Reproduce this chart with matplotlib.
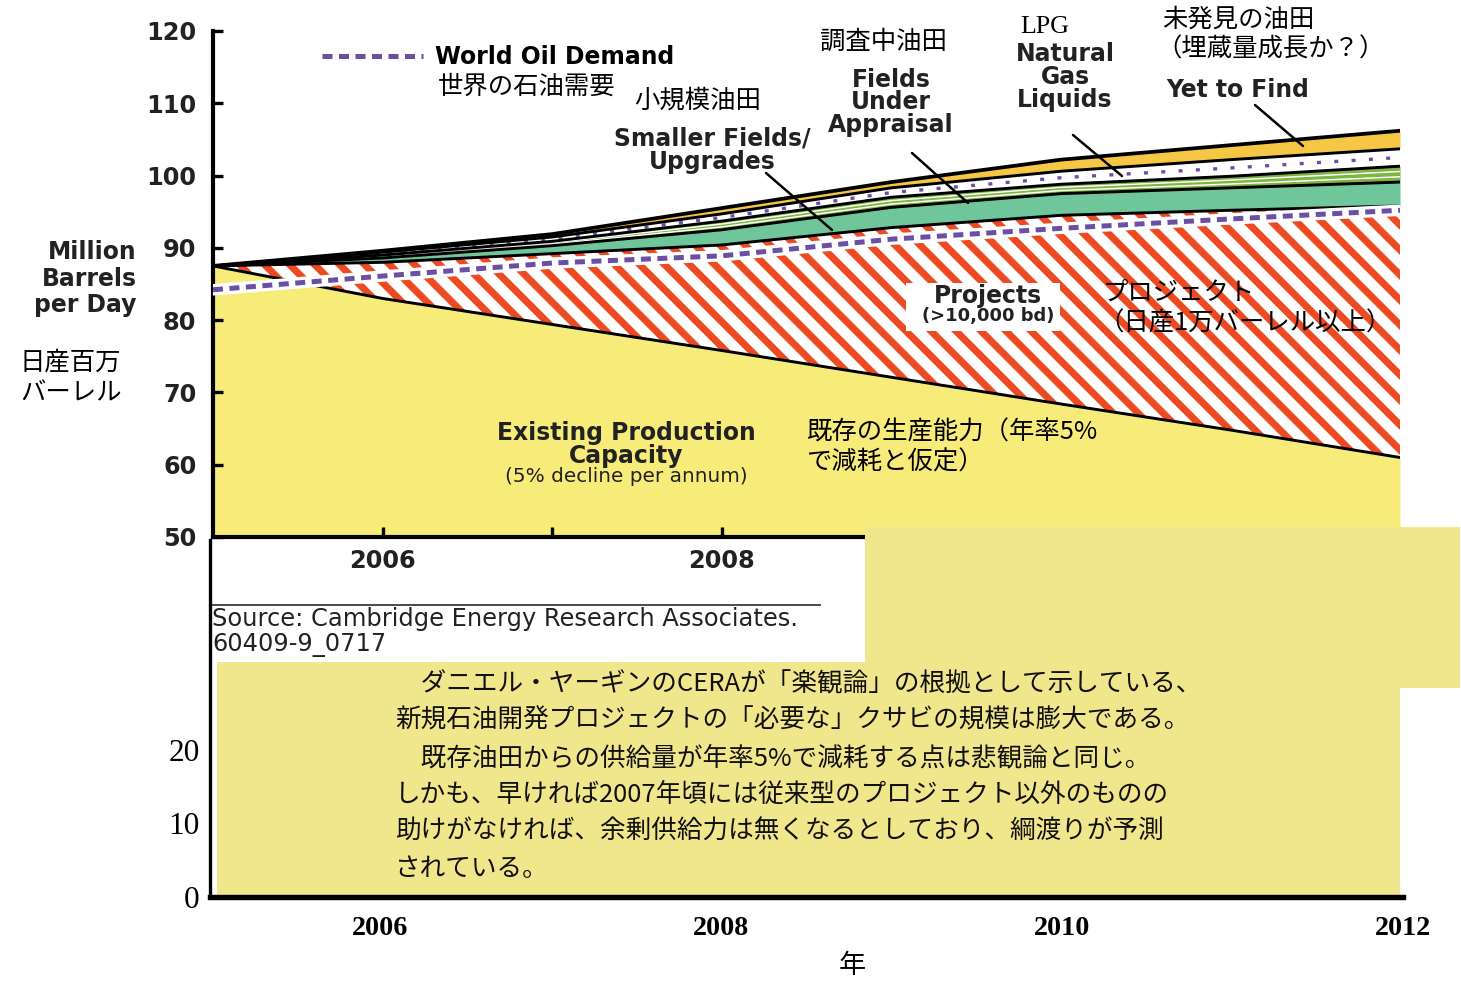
import numpy as np
import matplotlib
matplotlib.use("Agg")
import matplotlib.pyplot as plt
from matplotlib.patches import Rectangle
from matplotlib.lines import Line2D

W, H, DPI = 1461, 985, 150
plt.rcParams['hatch.linewidth'] = 3.4

# ---------------- data (million barrels per day) ----------------
years = [2005, 2006, 2007, 2008, 2009, 2010, 2011, 2012]
existing = [87.5, 83.0, 79.4, 75.8, 72.1, 68.4, 64.8, 61.0]
projects = [0.0, 5.0, 9.8, 14.6, 20.7, 26.1, 30.4, 34.8]
smaller_fields = [0.0, 0.6, 1.1, 2.1, 2.8, 3.0, 3.1, 3.3]
under_appraisal = [0.0, 0.4, 0.6, 1.2, 1.4, 1.3, 1.6, 2.2]
ngl = [0.0, 0.4, 0.6, 1.0, 1.3, 1.8, 2.3, 2.4]
yet_to_find = [0.0, 0.2, 0.4, 0.8, 0.8, 1.6, 2.0, 2.5]
demand = [84.2, 86.1, 87.9, 88.9, 91.2, 92.7, 94.0, 95.2]

main_yticks = [50, 60, 70, 80, 90, 100, 110, 120]
main_xticks = [2006, 2007, 2008, 2009, 2010, 2011, 2012]
main_xlabels = ['2006', '', '2008', '', '2010', '', '2012']
lower_yticks = [0, 10, 20]
lower_xticks = [2006, 2008, 2010, 2012]

note_lines = [
    "\u3000ダニエル・ヤーギンのCERAが「楽観論」の根拠として示している、",
    "新規石油開発プロジェクトの「必要な」クサビの規模は膨大である。",
    "\u3000既存油田からの供給量が年率5%で減耗する点は悲観論と同じ。",
    "しかも、早ければ2007年頃には従来型のプロジェクト以外のものの",
    "助けがなければ、余剰供給力は無くなるとしており、綱渡りが予測",
    "されている。",
]

JP = ['Noto Sans CJK JP', 'DejaVu Sans']
SERIF = ['Liberation Serif', 'DejaVu Serif']
KHAKI = '#F0E68C'


def F(px, py):
    return px / W, 1 - py / H


fig = plt.figure(figsize=(W / DPI, H / DPI), dpi=DPI)

# ---------------- main chart ----------------
TOP = 31
ax = fig.add_axes([213 / W, 1 - 537 / H, (1400 - 213) / W, (537 - TOP) / H])
ax.set_xlim(2005, 2012)
ax.set_ylim(50, 120)

x = np.array(years, dtype=float)
t0 = np.array(existing)
t1 = t0 + np.array(projects)
t2 = t1 + np.array(smaller_fields)
t3 = t2 + np.array(under_appraisal)
t4 = t3 + np.array(ngl)
t5 = t4 + np.array(yet_to_find)

ax.fill_between(x, 0, t0, color='#F7EC7A', lw=0, zorder=1)
ax.fill_between(x, t0, t1, facecolor='white', edgecolor='#EE4A22',
                hatch='\\\\', lw=0, zorder=1)
ax.fill_between(x, t1, t2, color='#6FC69A', lw=0, zorder=1)
ax.fill_between(x, t2, t3, color='#7DB543', lw=0, zorder=1)
for fr in (1 / 3, 2 / 3):
    ax.plot(x, t2 + fr * (t3 - t2), color='white', lw=0.7, zorder=2)
ax.fill_between(x, t3, t4, color='white', lw=0, zorder=1)
ax.plot(x, t3 + 0.5 * (t4 - t3), color='#6B4FA5', lw=1.6,
        ls=(0, (1.2, 4)), zorder=2)
ax.fill_between(x, t4, t5, color='#F6C744', lw=0, zorder=1)
for t in (t0, t1, t2, t3, t4):
    ax.plot(x, t, color='black', lw=1.4, zorder=3)
ax.plot(x, t5, color='black', lw=1.8, zorder=3)

ax.plot(x, demand, color='white', lw=5.5, zorder=4)
dem_style = dict(color='#6B4FA5', lw=2.4, ls=(0, (2.0, 1.3)))
ax.plot(x, demand, zorder=5, **dem_style)

for s in ('top', 'right'):
    ax.spines[s].set_visible(False)
for s in ('left', 'bottom'):
    ax.spines[s].set_linewidth(2.0)
ax.set_yticks(main_yticks)
ax.set_xticks(main_xticks)
ax.set_xticklabels(main_xlabels)
ax.tick_params(axis='both', direction='in', length=5, width=1.6,
               labelsize=11.5, colors='black')
ax.tick_params(axis='y', pad=8)
ax.tick_params(axis='x', pad=6)
for lb in ax.get_xticklabels() + ax.get_yticklabels():
    lb.set_fontweight('bold')
    lb.set_color('#222222')

# legend for demand
h = Line2D([], [], **dem_style)
fig.legend([h], ['World Oil Demand'], loc='center left',
           bbox_to_anchor=F(322, 57), bbox_transform=fig.transFigure,
           frameon=False, borderpad=0, borderaxespad=0, handlelength=4.3,
           handletextpad=0.5, prop=dict(weight='bold', size=11.3))

# pointer lines
for (sx, sy), (ex, ey) in [((766, 173), (832, 230)), ((912, 153), (968, 203)),
                           ((1073, 135), (1122, 176)), ((1255, 105), (1303, 146))]:
    ax.annotate('', xy=(ex, H - ey), xycoords='figure pixels',
                xytext=(sx, H - sy), textcoords='figure pixels',
                arrowprops=dict(arrowstyle='-', lw=1.2, color='black',
                                shrinkA=0, shrinkB=0), zorder=6)


def T(px, py, s, ha='left', **kw):
    kw.setdefault('va', 'center')
    fig.text(*F(px, py), s, ha=ha, zorder=10, **kw)


B = dict(fontweight='bold', fontsize=11.3, color='#222222')
T(438, 87, '世界の石油需要', family=JP, fontsize=12.2)
T(634, 101, '小規模油田', family=JP, fontsize=12.2)
T(712, 138, 'Smaller Fields/', ha='center', **B)
T(712, 162, 'Upgrades', ha='center', **B)
T(820, 42, '調査中油田', family=JP, fontsize=12.2)
T(891, 80, 'Fields', ha='center', **B)
T(891, 102, 'Under', ha='center', **B)
T(891, 125, 'Appraisal', ha='center', **B)
T(1020, 27, 'LPG', family=SERIF, fontsize=12.5)
T(1065, 54, 'Natural', ha='center', **B)
T(1065, 77, 'Gas', ha='center', **B)
T(1065, 100, 'Liquids', ha='center', **B)
T(1162, 20, '未発見の油田', family=JP, fontsize=12.2)
T(1156, 50, '（埋蔵量成長か？）', family=JP, fontsize=12.2)
T(1238, 90, 'Yet to Find', ha='center', **B)

fig.add_artist(Rectangle(F(906, 331), 154 / W, 48 / H, transform=fig.transFigure,
                         facecolor='white', edgecolor='none', zorder=8))
T(988, 296, 'Projects', ha='center', **B)
T(988, 316, '(>10,000 bd)', ha='center', fontsize=8.6, fontweight='bold',
  color='#222222')
T(1103, 293, 'プロジェクト', family=JP, fontsize=12.2)
T(1098, 323, '（日産1万バーレル以上）', family=JP, fontsize=12.2)

T(626, 433, 'Existing Production', ha='center', **B)
T(626, 456, 'Capacity', ha='center', **B)
T(626, 476, '(5% decline per annum)', ha='center', fontsize=9.6,
  color='#222222')
T(806, 432, '既存の生産能力（年率5%', family=JP, fontsize=12.2)
T(806, 463, 'で減耗と仮定）', family=JP, fontsize=12.2)

T(137, 252, 'Million', ha='right', **B)
T(137, 279, 'Barrels', ha='right', **B)
T(137, 305, 'per Day', ha='right', **B)
T(20, 362, '日産百万', family=JP, fontsize=12.2)
T(20, 393, 'バーレル', family=JP, fontsize=12.2)

# ---------------- overlay panels ----------------
fig.add_artist(Rectangle(F(865, 688), (1460 - 865) / W, (688 - 527) / H,
                         transform=fig.transFigure, facecolor=KHAKI,
                         edgecolor='none', zorder=2))
fig.add_artist(Rectangle(F(217, 895), (1400 - 217) / W, (895 - 662) / H,
                         transform=fig.transFigure, facecolor=KHAKI,
                         edgecolor='none', zorder=2))

fig.add_artist(Line2D([213 / W, 820 / W], [1 - 605 / H] * 2,
                      transform=fig.transFigure, color='#444444', lw=0.9,
                      zorder=3))
T(212, 626, 'Source: Cambridge Energy Research Associates.', va='baseline',
  family='DejaVu Sans', fontsize=11.6, color='#222222')
T(212, 651, '60409-9_0717', va='baseline', family='DejaVu Sans',
  fontsize=11.6, color='#222222')

for i, line in enumerate(note_lines):
    T(395, 684 + i * 37.0, line, family=JP, fontsize=12.3, color='#111111')

# ---------------- lower axes ----------------
ax2 = fig.add_axes([210 / W, 1 - 897 / H, (1403 - 210) / W, (897 - 540) / H],
                   facecolor='none', zorder=5)
ax2.set_xlim(2005, 2012)
ax2.set_ylim(0, (897 - 540) / 7.35)
for s in ('top', 'right'):
    ax2.spines[s].set_visible(False)
ax2.spines['left'].set_linewidth(1.6)
ax2.spines['bottom'].set_linewidth(2.6)
ax2.set_yticks(lower_yticks)
ax2.set_xticks(lower_xticks)
ax2.tick_params(axis='both', length=0)
ax2.tick_params(axis='y', pad=5, labelsize=15)
ax2.tick_params(axis='x', pad=9, labelsize=13.5)
for lb in ax2.get_yticklabels():
    lb.set_family(SERIF)
for lb in ax2.get_xticklabels():
    lb.set_family(SERIF)
    lb.set_fontweight('bold')
ax2.set_xlabel('年', family=JP, fontsize=13)
ax2.xaxis.set_label_coords((852 - 210) / (1403 - 210), (897 - 952) / (897 - 540))

fig.savefig('out.png', dpi=DPI)
